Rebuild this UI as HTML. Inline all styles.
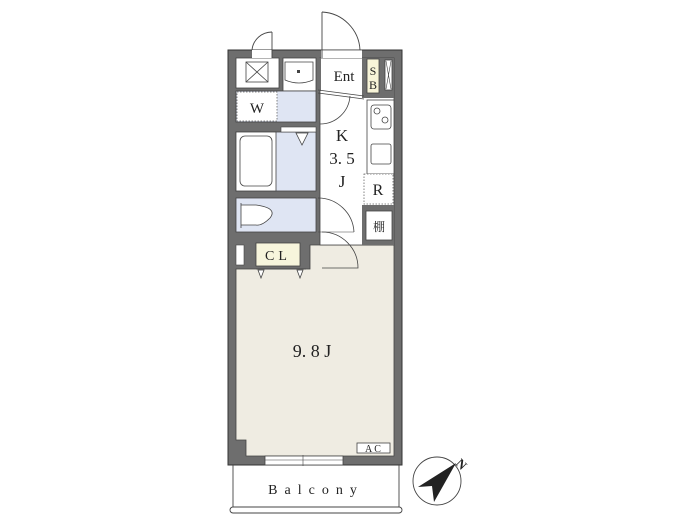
<!DOCTYPE html>
<html><head><meta charset="utf-8"><style>
html,body{margin:0;padding:0;background:#fff;width:700px;height:525px;overflow:hidden}
svg{display:block}
text{font-family:"Liberation Serif","Noto Serif CJK SC",serif;fill:#222}
</style></head><body>
<svg width="700" height="525" viewBox="0 0 700 525" xmlns="http://www.w3.org/2000/svg">
<rect x="228" y="50" width="174" height="415" fill="#6e6e6e" stroke="#333" stroke-width="1"/>
<polygon points="236,269 310,269 310,245 394,245 394,456 246,456 246,440 236,440" fill="#efece2" stroke="#444" stroke-width="0.8"/>
<rect x="320" y="58" width="74" height="187" fill="#fff" stroke="#444" stroke-width="0.8"/>
<rect x="316" y="58" width="5" height="33" fill="#6e6e6e"/>
<rect x="362" y="58" width="32" height="40" fill="#6e6e6e"/>
<rect x="367" y="59" width="12" height="34" fill="#f7f4d8" stroke="#444" stroke-width="0.8"/>
<rect x="385" y="60" width="7" height="30" fill="#fff" stroke="#444" stroke-width="0.8"/>
<line x1="386" y1="61" x2="391" y2="89" stroke="#444" stroke-width="0.6"/>
<line x1="391" y1="61" x2="386" y2="89" stroke="#444" stroke-width="0.6"/>
<line x1="318" y1="90" x2="364" y2="96" stroke="#444" stroke-width="0.8"/>
<line x1="318" y1="93" x2="364" y2="99" stroke="#444" stroke-width="0.8"/>
<rect x="367" y="100" width="27" height="74" fill="#fff" stroke="#444" stroke-width="0.8"/>
<rect x="371" y="105" width="20" height="24" rx="3" fill="#fff" stroke="#444" stroke-width="0.8"/>
<circle cx="377" cy="111" r="3" fill="none" stroke="#444" stroke-width="0.8"/>
<circle cx="385" cy="120" r="3" fill="none" stroke="#444" stroke-width="0.8"/>
<rect x="371" y="144" width="20" height="20" rx="2" fill="#fff" stroke="#444" stroke-width="0.8"/>
<rect x="364" y="174" width="29" height="30" fill="#fff" stroke="#666" stroke-width="0.8" stroke-dasharray="1.5,1.5"/>
<rect x="362" y="205" width="32" height="40" fill="#6e6e6e"/>
<rect x="366" y="211" width="26" height="29" fill="#fff" stroke="#444" stroke-width="0.8"/>
<rect x="236" y="58" width="43" height="30" fill="#fff" stroke="#444" stroke-width="0.8"/>
<rect x="246" y="62" width="22" height="20" fill="#fff" stroke="#444" stroke-width="0.8"/>
<line x1="246" y1="62" x2="268" y2="82" stroke="#444" stroke-width="0.8"/>
<line x1="268" y1="62" x2="246" y2="82" stroke="#444" stroke-width="0.8"/>
<rect x="283" y="58" width="33" height="33" fill="#fff" stroke="#444" stroke-width="0.8"/>
<path d="M285,62 H313 V80 Q299,86 285,80 Z" fill="#fff" stroke="#444" stroke-width="0.8"/>
<rect x="297" y="70" width="3" height="3" fill="#444"/>
<rect x="236" y="91" width="80" height="31" fill="#dfe5f3" stroke="#444" stroke-width="0.8"/>
<rect x="237" y="92" width="40" height="29" fill="#fff" stroke="#666" stroke-width="0.8" stroke-dasharray="1.5,1.5"/>
<rect x="236" y="132" width="80" height="59" fill="#dfe5f3" stroke="#444" stroke-width="0.8"/>
<rect x="236" y="132" width="40" height="59" fill="#fff" stroke="#444" stroke-width="0.8"/>
<rect x="240" y="136" width="32" height="50" rx="5" fill="#fff" stroke="#444" stroke-width="0.8"/>
<rect x="281" y="127" width="35" height="5" fill="#fff" stroke="#444" stroke-width="0.6"/>
<path d="M296,133 L308,133 L302,145 Z" fill="#fff" stroke="#444" stroke-width="0.8"/>
<rect x="236" y="198" width="80" height="34" fill="#dfe5f3" stroke="#444" stroke-width="0.8"/>
<path d="M241,203 V228 M241,205 H256 Q278,208 270,218 Q262,226 256,225 H241" fill="#fff" stroke="#444" stroke-width="0.8"/>
<rect x="256" y="243" width="44" height="23" fill="#f7f5dc" stroke="#444" stroke-width="0.8"/>
<rect x="236" y="245" width="8" height="20" fill="#fff" stroke="#444" stroke-width="0.6"/>
<path d="M258,270 L264,270 L261,278 Z M297,270 L303,270 L300,278 Z" fill="#fff" stroke="#444" stroke-width="0.8"/>
<line x1="256" y1="269" x2="306" y2="269" stroke="#444" stroke-width="0.8"/>
<rect x="321" y="50" width="41" height="8" fill="#fff"/>
<line x1="321" y1="50" x2="362" y2="50" stroke="#444" stroke-width="0.8"/>
<path d="M322,12 A40,40 0 0 1 360,50" fill="none" stroke="#444" stroke-width="0.9"/>
<line x1="322" y1="12" x2="322" y2="58" stroke="#444" stroke-width="0.9"/>
<rect x="252" y="50" width="20" height="8" fill="#fff"/>
<path d="M272,32 A20,20 0 0 0 252,50" fill="none" stroke="#444" stroke-width="0.9"/>
<line x1="272" y1="32" x2="272" y2="58" stroke="#444" stroke-width="0.9"/>
<path d="M350,96 A30,30 0 0 1 320,124" fill="none" stroke="#444" stroke-width="0.8"/>
<path d="M318,198 A36,36 0 0 1 354,232" fill="none" stroke="#444" stroke-width="0.8"/>
<line x1="318" y1="232" x2="354" y2="232" stroke="#444" stroke-width="0.6"/>
<path d="M322,232 A36,36 0 0 1 358,268 L322,268" fill="none" stroke="#444" stroke-width="0.8"/>
<rect x="265" y="456" width="78" height="9" fill="#fff" stroke="#444" stroke-width="0.8"/>
<line x1="265" y1="460" x2="343" y2="460" stroke="#444" stroke-width="0.5"/>
<line x1="303" y1="455" x2="303" y2="466" stroke="#444" stroke-width="0.6"/>
<rect x="357" y="443" width="33" height="10" fill="#fff" stroke="#444" stroke-width="0.8"/>
<text x="374" y="452" font-size="10" text-anchor="middle" letter-spacing="2" font-family="Liberation Sans">AC</text>
<line x1="233" y1="465" x2="233" y2="507" stroke="#444" stroke-width="0.9"/>
<line x1="399" y1="465" x2="399" y2="507" stroke="#444" stroke-width="0.9"/>
<rect x="230" y="507" width="172" height="6" rx="3" fill="#fff" stroke="#444" stroke-width="0.9"/>
<text x="316" y="494" font-size="14" text-anchor="middle" letter-spacing="7" font-family="Liberation Mono">Balcony</text>
<circle cx="437" cy="481" r="24" fill="#fff" stroke="#444" stroke-width="0.9"/>
<path d="M456,463 L418,487 L432,486 L434,502 Z" fill="#222"/>
<text x="455" y="464" font-size="13" transform="rotate(45 455 464)" font-family="Liberation Sans" font-weight="bold">N</text>
<text x="344" y="81" font-size="15" text-anchor="middle">Ent</text>
<text x="373" y="75" font-size="12" text-anchor="middle">S</text>
<text x="373" y="89" font-size="12" text-anchor="middle">B</text>
<text x="257" y="113" font-size="15" text-anchor="middle">W</text>
<text x="342" y="141" font-size="17" text-anchor="middle">K</text>
<text x="342" y="164" font-size="17" text-anchor="middle">3. 5</text>
<text x="342" y="187" font-size="17" text-anchor="middle">J</text>
<text x="378" y="195" font-size="16" text-anchor="middle">R</text>
<text x="379" y="231" font-size="12" text-anchor="middle">棚</text>
<text x="278" y="260" font-size="14" text-anchor="middle" letter-spacing="4">CL</text>
<text x="312" y="357" font-size="18" text-anchor="middle">9. 8 J</text>
</svg>
</body></html>
